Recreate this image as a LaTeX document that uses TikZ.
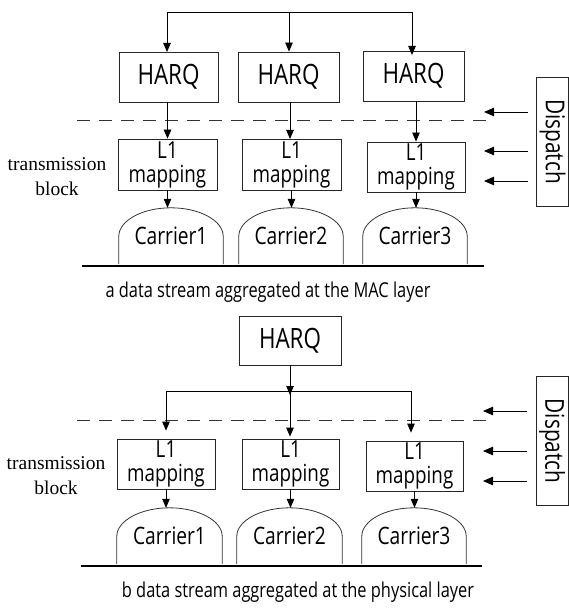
\documentclass[tikz,border=0pt]{standalone}
\usepackage{fontspec}
\usetikzlibrary{arrows.meta,calc}
\setmainfont{Liberation Serif}
\newfontfamily\labelfont[FakeStretch=0.8]{Open Sans}

% dome outline of a carrier node: vertical sides, elliptic top
\newcommand\carrierdome[1]{%
  \draw[shapeline] (#1.south west) -- ([yshift=28pt]#1.south west)
    .. controls ([yshift=43.5pt]#1.south west) and ([xshift=-28.7pt]#1.north) .. (#1.north)
    .. controls ([xshift=28.7pt]#1.north) and ([yshift=43.5pt]#1.south east) .. ([yshift=28pt]#1.south east)
    -- (#1.south east);}

\begin{document}
\begin{tikzpicture}[x=1pt,y=-1pt,
  shapeline/.style={draw=black!80, line width=0.8pt},
  box/.style={draw=black!85, line width=0.8pt, inner sep=0pt, align=center},
  harq/.style={box, minimum height=50pt, font=\labelfont\fontsize{28}{30}\selectfont},
  l1map/.style={box, minimum height=51pt, minimum width=99pt, font=\labelfont\fontsize{23.5}{24}\selectfont},
  carrier/.style={inner sep=0pt, minimum width=104pt, minimum height=56pt, font=\labelfont\fontsize{24}{24}\selectfont},
  dispatch/.style={box, rotate=-90, minimum width=129pt, minimum height=32pt, font=\labelfont\fontsize{26}{28}\selectfont},
  blocknote/.style={align=center, inner sep=0pt, font=\rmfamily\fontsize{19.5}{25}\selectfont},
  caption/.style={inner sep=0pt, font=\labelfont\fontsize{20.5}{22}\selectfont},
  wire/.style={line width=0.8pt},
  arr/.style={line width=0.8pt, -{Triangle[length=9pt,width=7.5pt]}},
  darr/.style={line width=0.8pt, -{Triangle[length=10pt,width=8.5pt]}},
  sepline/.style={line width=0.8pt, black!80, dash pattern=on 13pt off 9pt},
  ground/.style={line width=2pt}
]
\useasboundingbox (0,0) rectangle (569,612);

% ===================== (a) aggregation at the MAC layer =====================
\node[harq, minimum width=99pt]  (harqA1) at (168.5,77) {HARQ};
\node[harq, minimum width=101pt] (harqA2) at (288.5,77) {HARQ};
\node[harq, minimum width=101pt] (harqA3) at (413.5,76) {HARQ};

\node[l1map] (l1A1) at (167.5,164.5) {L1\\mapping};
\node[l1map] (l1A2) at (291.5,164.5) {L1\\mapping};
\node[l1map, minimum width=98pt, minimum height=50pt] (l1A3) at (416,167) {L1\\mapping};

\node[carrier] (cA1) at (171,236) {\raisebox{-3pt}{Carrier1}};
\node[carrier] (cA2) at (291,236) {\raisebox{-3pt}{Carrier2}};
\node[carrier] (cA3) at (415,236) {\raisebox{-3pt}{Carrier3}};
\carrierdome{cA1}\carrierdome{cA2}\carrierdome{cA3}

\draw[ground] (82,266) -- (484,266);
\draw[sepline] (77,120) -- (490,120);

% distribution bus above the HARQ entities
\coordinate (busA) at (289,12);
\draw[wire] (167,12) -- (412,12);
\draw[arr] (167,12) -- (167,52);
\draw[arr] (busA) -- (busA |- harqA2.north);
\draw[arr] (412,12) -- (412,55);

\draw[arr] (harqA1.south -| l1A1.north) -- (l1A1.north);
\draw[arr] (harqA2.south -| 290,0) -- (290,139);
\draw[arr] (harqA3.south -| l1A3.north) -- (l1A3.north);

\draw[arr] (l1A1.south) -- (l1A1.south |- cA1.north);
\draw[arr] (l1A2.south) -- (l1A2.south |- cA2.north);
\draw[arr] (l1A3.south) -- (l1A3.south |- cA3.north);

\node[blocknote] (tbA) at (57,177) {transmission\\block};

\node[dispatch] (dispA) at (552.5,141.5) {Dispatch};
\coordinate (dA1) at (528,112);
\coordinate (dA2) at (528,151);
\coordinate (dA3) at (528,181);
\draw[darr] (dA1) -- ++(-44,0);
\draw[darr] (dA2) -- ++(-44,0);
\draw[darr] (dA3) -- ++(-44,0);

\node[caption] (capA) at (268,292) {a data stream aggregated at the MAC layer};

% ================== (b) aggregation at the physical layer ==================
\node[harq, minimum width=102pt, minimum height=49pt] (harqB) at (290,340.5) {HARQ};

\node[l1map, minimum width=98pt, minimum height=50pt] (l1B1) at (166,464) {L1\\mapping};
\node[l1map, minimum width=97pt, minimum height=50pt] (l1B2) at (290.5,464) {L1\\mapping};
\node[l1map, minimum width=97pt, minimum height=50pt] (l1B3) at (414.5,466) {L1\\mapping};

\node[carrier, minimum width=105pt] (cB1) at (169.5,536) {\raisebox{-3pt}{Carrier1}};
\node[carrier, minimum width=105pt] (cB2) at (289.5,536) {\raisebox{-3pt}{Carrier2}};
\node[carrier] (cB3) at (414,536) {\raisebox{-3pt}{Carrier3}};
\carrierdome{cB1}\carrierdome{cB2}\carrierdome{cB3}

\draw[ground] (81,566) -- (482,566);
\draw[sepline] (77,420) -- (490,420);

% one HARQ entity fanned out to all mapping blocks
\coordinate (jB)  at (290,391);
\coordinate (jBl) at (166,391);
\coordinate (jBr) at (411,391);
\draw[arr] (harqB.south) -- ([yshift=-4pt]jB);
\draw[wire] (jBl) -- (jBr);
\draw[arr, shorten >=8pt] (jBl) -- (jBl |- l1B1.north);
\draw[arr, shorten >=2pt] (jB) -- (jB |- l1B2.north);
\draw[arr, shorten >=8pt] (jBr) -- (jBr |- l1B3.north);

\draw[arr] (l1B1.south) -- (l1B1.south |- cB1.north);
\draw[arr] (l1B2.south) -- (l1B2.south |- cB2.north);
\draw[arr] (l1B3.south) -- (l1B3.south |- cB3.north);

\node[blocknote] (tbB) at (56,476) {transmission\\block};

\node[dispatch] (dispB) at (552,441) {Dispatch};
\coordinate (dB1) at (527,411);
\coordinate (dB2) at (527,451);
\coordinate (dB3) at (527,481);
\draw[darr] (dB1) -- ++(-44,0);
\draw[darr] (dB2) -- ++(-44,0);
\draw[darr] (dB3) -- ++(-44,0);

\node[caption] (capB) at (298,592) {b data stream aggregated at the physical layer};
\end{tikzpicture}
\end{document}
